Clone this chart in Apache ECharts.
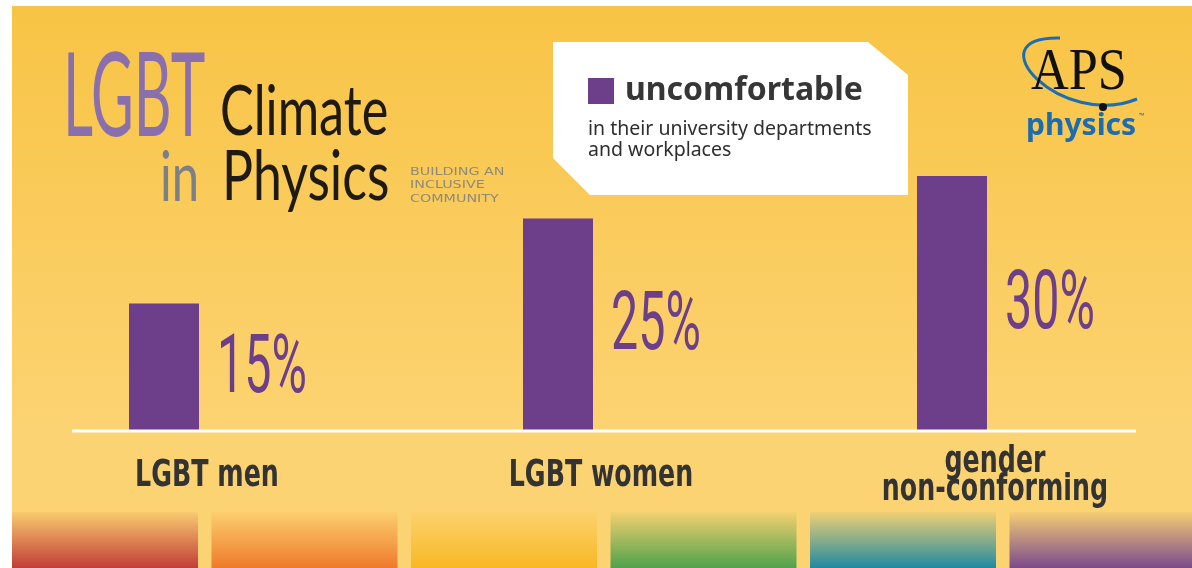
<!DOCTYPE html>
<html>
<head>
<meta charset="utf-8">
<script src="https://cdn.jsdelivr.net/npm/echarts@6/dist/echarts.min.js"></script>
<style>
  html, body { margin: 0; padding: 0; background: #fff; }
  #myChart { width: 1192px; height: 568px; }
</style>
</head>
<body>
<div id="myChart"></div>
<script>
// ---------------- data ----------------
const categories = ['LGBT men', 'LGBT women', 'gender\nnon-conforming'];
const uncomfortable = [15, 25, 30];
const seriesName = 'uncomfortable';
const subText = 'in their university departments\nand workplaces';

// colours
const purple = '#6d3f8b';
const stripeColors = ['#c13d37', '#ef7a2c', '#f8b824', '#4fa24b', '#1f8aa1', '#7a4a8d'];

const barW = 70;
const barShift = 43; // bars sit left of the label centre

let myChart = echarts.init(document.getElementById('myChart'));

// rainbow strip at the bottom
let stripes = stripeColors.map(function (c, i) {
  return {
    type: 'rect',
    z: -5,
    silent: true,
    shape: { x: 12 + i * 199.5, y: 512, width: 186, height: 56 },
    style: {
      fill: {
        type: 'linear', x: 0, y: 0, x2: 0, y2: 1,
        colorStops: [
          { offset: 0, color: echarts.color.modifyAlpha(c, 0.05) },
          { offset: 1, color: c }
        ]
      }
    }
  };
});

myChart.setOption({
  backgroundColor: '#ffffff',
  animation: false,
  grid: { left: 10, width: 1190, top: 91, bottom: 137 },
  xAxis: {
    type: 'category',
    data: categories,
    axisLine: { show: false },
    axisTick: { show: false },
    // names are drawn (narrowed) by the series below
    axisLabel: { show: false }
  },
  yAxis: { type: 'value', min: 0, max: 40, show: false },
  legend: {
    data: [seriesName],
    left: 588,
    top: 75,
    padding: 0,
    icon: 'rect',
    itemWidth: 26,
    itemHeight: 26,
    selectedMode: false,
    textStyle: {
      color: '#363636',
      fontSize: 32,
      fontWeight: 'bold',
      fontFamily: '"Noto Sans", sans-serif',
      padding: [0, 0, 0, 6]
    }
  },
  graphic: [
    // page background
    {
      type: 'rect', z: -10, silent: true,
      shape: { x: 12, y: 6, width: 1180, height: 562 },
      style: {
        fill: {
          type: 'linear', x: 0, y: 0, x2: 0, y2: 1,
          colorStops: [
            { offset: 0, color: '#f8c445' },
            { offset: 0.75, color: '#fcd372' },
            { offset: 1, color: '#fcd372' }
          ]
        }
      }
    }
  ].concat(stripes).concat([
    // baseline
    {
      type: 'line', z: 50, silent: true,
      shape: { x1: 72, y1: 431, x2: 1136, y2: 431 },
      style: { stroke: '#ffffff', lineWidth: 3 }
    },
    // title
    {
      type: 'text', z: 50, x: 63, y: 98, scaleX: 0.5,
      style: { text: 'LGBT', fill: '#8a6fae', font: '117px Lato, "Open Sans", sans-serif', verticalAlign: 'middle' }
    },
    {
      type: 'text', z: 50, x: 220, y: 112, scaleX: 0.72,
      style: { text: 'Climate', fill: '#1f1a14', font: '70px Lato, "Open Sans", sans-serif', verticalAlign: 'middle' }
    },
    {
      type: 'text', z: 50, x: 160, y: 178, scaleX: 0.7,
      style: { text: 'in', fill: '#7b7f86', font: '70px Lato, "Open Sans", sans-serif', verticalAlign: 'middle' }
    },
    {
      type: 'text', z: 50, x: 222, y: 177, scaleX: 0.74,
      style: { text: 'Physics', fill: '#1f1a14', font: '70px Lato, "Open Sans", sans-serif', verticalAlign: 'middle' }
    },
    {
      type: 'text', z: 50, x: 410, y: 165, scaleX: 1.3,
      style: {
        text: 'BUILDING AN\nINCLUSIVE\nCOMMUNITY', fill: '#8f8a78',
        font: '11px "DejaVu Sans", sans-serif', lineHeight: 13.5, verticalAlign: 'top'
      }
    },
    // legend card
    {
      type: 'polygon', z: 1, silent: true,
      shape: { points: [[553, 42], [868, 42], [908, 75], [908, 195], [590, 195], [553, 158]] },
      style: { fill: '#ffffff' }
    },
    {
      type: 'text', z: 50, x: 588, y: 119,
      style: {
        text: subText, fill: '#2e2e2e', font: '19.5px "Noto Sans", sans-serif',
        lineHeight: 21, verticalAlign: 'top'
      }
    },
    // APS logo
    {
      type: 'bezierCurve', z: 50, silent: true,
      shape: { x1: 1060, y1: 38, cpx1: 972, cpy1: 36, cpx2: 1062, cpy2: 130, x2: 1137, y2: 99 },
      style: { stroke: '#1a6fb4', lineWidth: 3, fill: null }
    },
    {
      type: 'text', z: 51, x: 1031, y: 103, scaleX: 0.87,
      style: { text: 'APS', fill: '#111111', font: '60px "Liberation Serif", "DejaVu Serif", serif', verticalAlign: 'bottom' }
    },
    {
      type: 'circle', z: 52, silent: true,
      shape: { cx: 1103, cy: 107, r: 4 },
      style: { fill: '#111111' }
    },
    {
      type: 'text', z: 50, x: 1026, y: 126,
      style: { text: 'physics', fill: '#1b6cb0', font: 'bold 30px "Noto Sans", sans-serif', verticalAlign: 'middle' }
    },
    {
      type: 'text', z: 50, x: 1139, y: 116,
      style: { text: '™', fill: '#1b6cb0', font: '7px "Noto Sans", sans-serif', verticalAlign: 'middle' }
    }
  ]),
  series: [
    {
      name: seriesName,
      type: 'custom',
      z: 10,
      itemStyle: { color: purple },
      encode: { x: 0, y: 1 },
      data: uncomfortable.map(function (v, i) { return [i, v]; }),
      renderItem: function (params, api) {
        let base = api.coord([api.value(0), 0]);
        let top = api.coord([api.value(0), api.value(1)]);
        let x = base[0] - barShift - barW / 2;
        return {
          type: 'group',
          children: [
            {
              type: 'rect',
              shape: { x: x, y: top[1], width: barW, height: base[1] - top[1] },
              style: { fill: purple }
            },
            {
              type: 'text',
              x: x + barW + 18,
              y: (top[1] + base[1]) / 2 + 4,
              scaleX: 0.59,
              style: {
                text: api.value(1) + '%',
                fill: purple,
                font: '82px Roboto, "DejaVu Sans", sans-serif',
                verticalAlign: 'middle'
              }
            },
            {
              // category name under the baseline
              type: 'text',
              x: base[0],
              y: base[1] + 45,
              scaleX: 0.74,
              style: {
                text: categories[params.dataIndex],
                fill: '#333333',
                font: 'bold 38px "DejaVu Sans Condensed", "DejaVu Sans", sans-serif',
                lineHeight: 28,
                align: 'center',
                verticalAlign: 'middle'
              }
            }
          ]
        };
      }
    }
  ]
});
</script>
</body>
</html>
